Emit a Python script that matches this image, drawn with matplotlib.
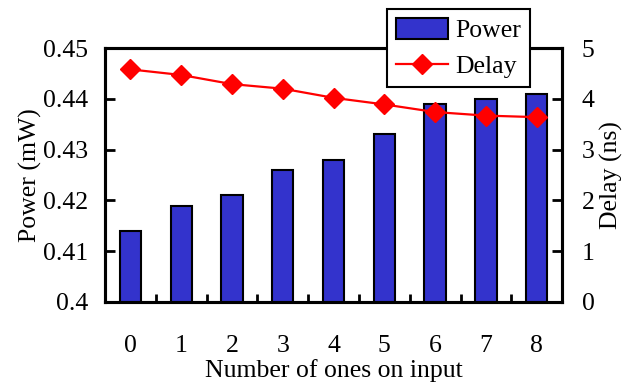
import matplotlib
matplotlib.use('Agg')
import matplotlib.pyplot as plt
import numpy as np

ones = [0, 1, 2, 3, 4, 5, 6, 7, 8]
power = [0.414, 0.419, 0.421, 0.426, 0.428, 0.433, 0.439, 0.440, 0.441]
delay = [4.58, 4.47, 4.29, 4.20, 4.02, 3.89, 3.74, 3.67, 3.64]

plt.rcParams['font.family'] = ['Liberation Serif', 'DejaVu Serif']
plt.rcParams['font.size'] = 18.5

fig = plt.figure(figsize=(6.33, 3.83), dpi=100)
ax = fig.add_axes([0.166, 0.2115, 0.722, 0.663])
ax2 = ax.twinx()

bars = ax.bar(ones, power, width=0.42, color='#3333cc', edgecolor='black',
              linewidth=1.5, label='Power', zorder=2)
line, = ax2.plot(ones, delay, color='red', lw=1.6, marker='D', markersize=10,
                 label='Delay')

ax.set_xlim(-0.5, 8.5)
ax.set_ylim(0.4, 0.45)
ax.set_yticks([0.4, 0.41, 0.42, 0.43, 0.44, 0.45])
ax.set_yticklabels(['0.4', '0.41', '0.42', '0.43', '0.44', '0.45'])
ax2.set_ylim(0, 5)
ax2.set_yticks(range(6))

ax.set_xticks(ones)
ax.set_xticks(np.arange(0.5, 8, 1), minor=True)
ax.tick_params(axis='x', which='major', length=0, pad=24)
ax.tick_params(axis='x', which='minor', direction='in', length=6, width=2)
ax.tick_params(axis='y', direction='in', length=7, width=2, pad=12)
ax2.tick_params(axis='y', direction='in', length=7, width=2, pad=14)

for a in (ax, ax2):
    for s in a.spines.values():
        s.set_linewidth(2.2)

ax.set_xlabel('Number of ones on input', labelpad=1)
ax.set_ylabel('Power (mW)', labelpad=1)
ax2.set_ylabel('Delay (ns)', labelpad=4)

leg = ax2.legend([bars, line], ['Power', 'Delay'], loc='upper right',
                 bbox_to_anchor=(0.93, 1.155), borderaxespad=0, fancybox=False,
                 edgecolor='black', framealpha=1, handlelength=2.0,
                 handleheight=0.9, handletextpad=0.3, borderpad=0.35,
                 labelspacing=0.45)
leg.get_frame().set_linewidth(1.5)

fig.savefig('out.png', dpi=100)
